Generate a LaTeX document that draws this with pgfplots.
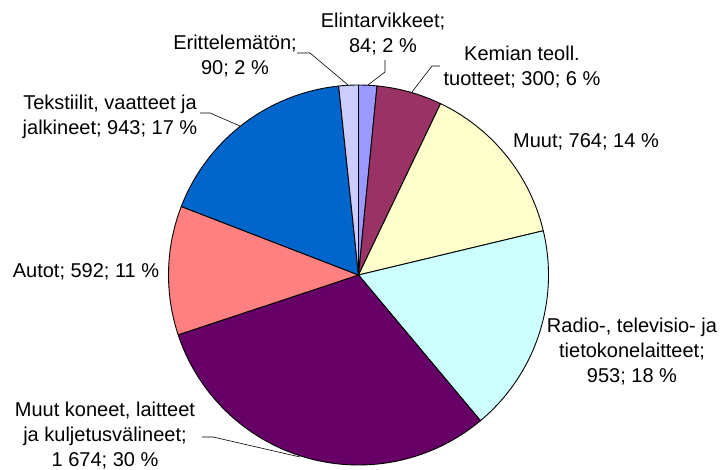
\documentclass[border=0pt]{standalone}
\usepackage{fontspec}
\setmainfont{Liberation Sans}
\usepackage{pgfplots}
\usepackage{pgfplotstable}
\pgfplotsset{compat=1.18}
\definecolor{cA}{HTML}{9999FF}
\definecolor{cB}{HTML}{993366}
\definecolor{cC}{HTML}{FFFFCC}
\definecolor{cD}{HTML}{CCFFFF}
\definecolor{cE}{HTML}{660066}
\definecolor{cF}{HTML}{FF8080}
\definecolor{cG}{HTML}{0066CC}
\definecolor{cH}{HTML}{CCCCFF}
\pgfplotstableread{
value col
84 cA
300 cB
764 cC
953 cD
1674 cE
592 cF
943 cG
90 cH
}\piedata
\begin{document}
\begin{tikzpicture}
\begin{axis}[scale only axis, width=720bp, height=470bp,
  xmin=0, xmax=720, ymin=0, ymax=470, hide axis, clip=false]
\def\cum{0}
\pgfplotsforeachungrouped \i in {0,...,7}{%
  \pgfplotstablegetelem{\i}{value}\of\piedata \let\sliceval\pgfplotsretval
  \pgfplotstablegetelem{\i}{col}\of\piedata \let\slicecol\pgfplotsretval
  \pgfmathsetmacro\aend{90-\cum/15}%
  \pgfmathsetmacro\cumnew{\cum+\sliceval}%
  \pgfmathsetmacro\astart{90-\cumnew/15}%
  \edef\temp{\noexpand\addplot[fill=\slicecol, draw=black, line width=0.9pt, line join=round, domain=\astart:\aend, samples=120] ({358.5+190*cos(x)},{195+190*sin(x)}) -- (axis cs:358.5,195) -- cycle;}%
  \temp
  \global\let\cum\cumnew
}
\tikzset{lbl/.style={font=\fontsize{20bp}{25bp}\selectfont, align=center, inner sep=0pt}}
\node[lbl] at (axis cs:383,435.5) {Elintarvikkeet;\\84; 2 \%};
\node[lbl] at (axis cs:235,413.5) {Erittelemätön;\\90; 2 \%};
\node[lbl] at (axis cs:522,402.5) {Kemian teoll.\\tuotteet; 300; 6 \%};
\node[lbl] at (axis cs:586,328) {Muut; 764; 14 \%};
\node[lbl] at (axis cs:632,118) {Radio-, televisio- ja\\tietokonelaitteet;\\953; 18 \%};
\node[lbl] at (axis cs:105,34) {Muut koneet, laitteet\\ja kuljetusvälineet;\\1 674; 30 \%};
\node[lbl] at (axis cs:86,198) {Autot; 592; 11 \%};
\node[lbl] at (axis cs:110,353.5) {Tekstiilit, vaatteet ja\\jalkineet; 943; 17 \%};
\draw[line width=0.6pt] (axis cs:385,410) -- (axis cs:385,398) -- (axis cs:368,385);
\draw[line width=0.6pt] (axis cs:297,417) -- (axis cs:310,417) -- (axis cs:348,385);
\draw[line width=0.6pt] (axis cs:440,404) -- (axis cs:432,404) -- (axis cs:412,378);
\draw[line width=0.6pt] (axis cs:200,357) -- (axis cs:210,357) -- (axis cs:240,344);
\draw[line width=0.6pt] (axis cs:202,33) -- (axis cs:213,33) -- (axis cs:300,13);
\end{axis}
\pgfresetboundingbox
\path (current axis.south west) (current axis.north east);
\end{tikzpicture}
\end{document}
